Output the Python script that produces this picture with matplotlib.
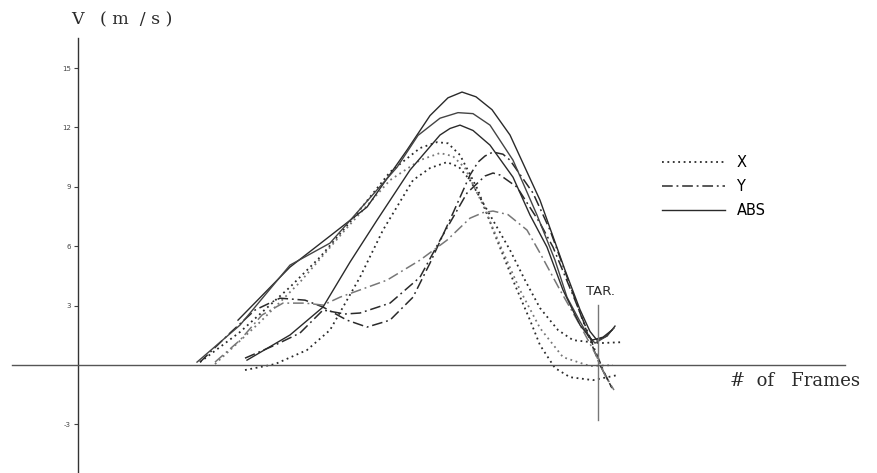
import matplotlib
matplotlib.use("Agg")
import matplotlib.pyplot as plt

# frame number (x) and velocity in m/s (y)
s1_f = [16.0, 21.2, 25.2, 28.9, 32.9, 35.2, 37.0, 38.4, 39.8, 41.4, 43.2, 46.2, 48.7, 50.2, 51.2, 51.9, 52.9, 53.7]
s1_v = [2.27, 4.95, 6.52, 7.98, 10.86, 12.6, 13.5, 13.79, 13.55, 12.9, 11.62, 8.33, 4.80, 2.8, 1.7, 1.26, 1.46, 1.97]
s2_f = [11.9, 16.2, 21.2, 25.2, 31.9, 34.0, 36.2, 38.0, 39.5, 41.2, 43.5, 45.9, 47.7, 48.9, 50.2, 51.0, 51.7, 52.7, 53.6]
s2_v = [0.15, 2.02, 5.05, 6.16, 9.99, 11.6, 12.47, 12.75, 12.7, 12.12, 10.35, 7.58, 5.30, 3.43, 2.2, 1.5, 1.11, 1.41, 1.87]
s3_f = [16.9, 21.2, 24.5, 27.2, 29.9, 33.2, 36.2, 37.2, 38.2, 39.5, 41.2, 43.5, 45.2, 46.9, 48.5, 50.2, 51.4, 52.5, 53.4]
s3_v = [0.25, 1.52, 2.93, 5.20, 7.32, 9.85, 11.62, 11.95, 12.12, 11.85, 11.11, 9.49, 7.58, 5.96, 3.79, 2.02, 1.26, 1.41, 1.77]

y1_f = [12.2, 15.2, 17.7, 20.2, 22.7, 24.5, 26.9, 28.9, 31.2, 33.5, 35.2, 37.5, 39.2, 40.0, 40.7, 41.5, 42.5, 43.2, 45.5, 47.2, 49.2, 51.0, 52.2, 53.4]
y1_v = [0.15, 1.62, 2.78, 3.38, 3.28, 2.93, 2.27, 1.92, 2.27, 3.43, 5.15, 7.68, 9.60, 10.25, 10.56, 10.76, 10.65, 10.35, 8.69, 6.82, 4.04, 1.52, 0.0, -1.16]
y2_f = [16.7, 19.7, 22.2, 24.5, 26.7, 28.2, 31.2, 34.2, 36.2, 38.9, 40.7, 41.5, 42.2, 43.9, 46.2, 47.5, 49.7, 51.5, 52.6, 53.4]
y2_v = [0.35, 1.01, 1.62, 2.78, 2.58, 2.63, 3.13, 4.44, 6.31, 8.69, 9.55, 9.7, 9.60, 8.99, 7.17, 5.96, 3.28, 1.01, -0.35, -1.16]
y3_f = [13.7, 16.2, 18.4, 20.5, 22.7, 24.5, 26.2, 30.9, 34.2, 36.9, 39.2, 40.5, 41.5, 43.0, 44.9, 46.2, 48.2, 50.2, 51.8, 52.7, 53.6]
y3_v = [0.15, 1.26, 2.53, 3.13, 3.13, 3.03, 3.43, 4.29, 5.30, 6.31, 7.42, 7.7, 7.78, 7.6, 6.82, 5.66, 3.79, 2.02, 0.51, -0.51, -1.26]

x1_f = [12.2, 16.2, 21.2, 24.2, 27.2, 31.2, 34.2, 35.9, 37.0, 38.2, 40.0, 41.7, 43.7, 45.2, 46.2, 47.7, 49.2, 51.5, 53.9]
x1_v = [0.15, 1.67, 3.94, 5.45, 7.22, 9.75, 10.96, 11.26, 11.2, 10.61, 8.84, 6.57, 4.04, 2.27, 1.01, -0.15, -0.61, -0.76, -0.51]
x2_f = [13.7, 18.2, 22.2, 26.7, 31.2, 34.2, 36.2, 37.5, 38.7, 40.5, 42.2, 44.2, 46.2, 48.5, 51.2, 53.5]
x2_v = [0.05, 2.17, 4.19, 6.82, 9.34, 10.35, 10.71, 10.55, 9.95, 8.08, 6.06, 3.79, 1.87, 0.40, -0.05, 0.0]
x3_f = [16.7, 19.7, 22.9, 25.2, 28.2, 30.5, 33.5, 35.2, 36.9, 38.1, 39.2, 41.2, 43.2, 44.7, 46.2, 48.0, 49.5, 52.2, 54.5]
x3_v = [-0.25, 0.05, 0.76, 1.77, 4.44, 6.82, 9.34, 9.95, 10.25, 10.0, 9.34, 7.58, 5.81, 4.29, 2.88, 1.77, 1.26, 1.11, 1.16]

y_ticks = [15, 12, 9, 6, 3, -3]
target_frame = 52.0

fig = plt.figure(figsize=(8.78, 4.73), dpi=100)
ax = fig.add_axes([12 / 878, 0.0, 833 / 878, 435 / 473])
ax.set_xlim(-6.6, 76.7)
ax.set_ylim(-5.45, 16.52)

ink = "#2a2a2a"
grey = "#777777"

# X components - dotted
dot = (0, (1.0, 2.0))
ax.plot(x1_f, x1_v, color=ink, lw=1.3, linestyle=dot, label="X")
ax.plot(x2_f, x2_v, color=grey, lw=1.3, linestyle=dot)
ax.plot(x3_f, x3_v, color=ink, lw=1.3, linestyle=dot)

# Y components - dash dot
dd = (0, (7, 2.5, 1.2, 2.5))
ax.plot(y1_f, y1_v, color=ink, lw=1.1, linestyle=dd, label="Y")
ax.plot(y2_f, y2_v, color=ink, lw=1.1, linestyle=dd)
ax.plot(y3_f, y3_v, color=grey, lw=1.1, linestyle=dd)

# absolute - solid
ax.plot(s1_f, s1_v, color=ink, lw=1.0, label="ABS")
ax.plot(s2_f, s2_v, color="#444444", lw=1.0)
ax.plot(s3_f, s3_v, color=ink, lw=1.0)

# target marker
ax.plot([target_frame, target_frame], [3.03, -2.78], color=grey, lw=1.0)
ax.text(target_frame + 0.3, 3.4, "TAR.", fontsize=9.5, ha="center", va="bottom",
        color=ink, family="DejaVu Sans")

for sp in ["top", "right"]:
    ax.spines[sp].set_visible(False)
ax.spines["left"].set_position(("data", 0))
ax.spines["bottom"].set_position(("data", 0))
ax.spines["left"].set_color("#333333")
ax.spines["bottom"].set_color("#555555")
ax.spines["left"].set_linewidth(1.0)
ax.spines["bottom"].set_linewidth(1.0)

ax.set_xticks([])
ax.set_yticks(y_ticks)
ax.set_yticklabels([str(t) for t in y_ticks])
ax.tick_params(axis="y", direction="out", length=3, width=0.8, colors="#444444",
               labelsize=5, pad=2)

ax.legend(loc="upper left", bbox_to_anchor=(649 / 878, 1 - 142 / 473),
          bbox_transform=fig.transFigure, frameon=False, fontsize=10.5,
          handlelength=4.3, handletextpad=0.8, labelspacing=0.62)

fig.text(71 / 878, 1 - 20 / 473, "V   ( m  / s )", fontsize=12.5, va="center",
         ha="left", family="DejaVu Serif", color=ink)
fig.text(730 / 878, 1 - 381 / 473, "#  of   Frames", fontsize=13, va="center",
         ha="left", family="DejaVu Serif", color=ink)

fig.savefig("out.png", dpi=100)
